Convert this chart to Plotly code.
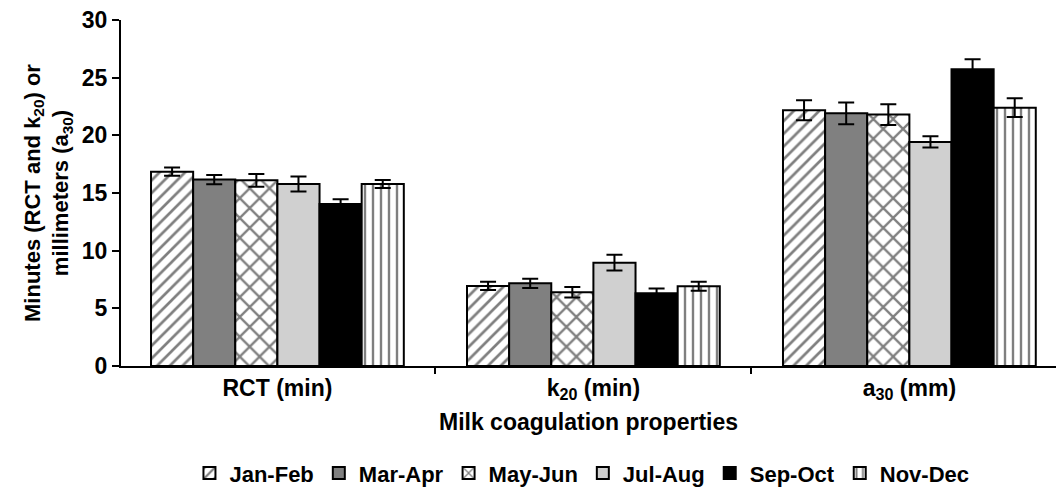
import plotly.graph_objects as go

categories = ["<b>RCT (min)</b>", "<b>k<sub>20</sub> (min)</b>", "<b>a<sub>30</sub> (mm)</b>"]
periods = ["Jan-Feb", "Mar-Apr", "May-Jun", "Jul-Aug", "Sep-Oct", "Nov-Dec"]

jan_feb = [16.85, 6.94, 22.17]
mar_apr = [16.16, 7.17, 21.91]
may_jun = [16.1, 6.39, 21.8]
jul_aug = [15.78, 8.96, 19.43]
sep_oct = [14.05, 6.3, 25.73]
nov_dec = [15.78, 6.91, 22.4]

jan_feb_err = [0.36, 0.36, 0.87]
mar_apr_err = [0.4, 0.4, 0.94]
may_jun_err = [0.55, 0.46, 0.9]
jul_aug_err = [0.65, 0.69, 0.49]
sep_oct_err = [0.4, 0.43, 0.87]
nov_dec_err = [0.35, 0.39, 0.82]

series = [jan_feb, mar_apr, may_jun, jul_aug, sep_oct, nov_dec]
errors = [jan_feb_err, mar_apr_err, may_jun_err, jul_aug_err, sep_oct_err, nov_dec_err]

styles = [
    dict(color="white", pattern=dict(shape="/", fgcolor="black", bgcolor="white", size=9, solidity=0.3)),
    dict(color="#808080", pattern=dict(shape="")),
    dict(color="white", pattern=dict(shape="x", fgcolor="black", bgcolor="white", size=14, solidity=0.3)),
    dict(color="#d0d0d0", pattern=dict(shape="")),
    dict(color="black", pattern=dict(shape="")),
    dict(color="white", pattern=dict(shape="|", fgcolor="black", bgcolor="white", size=8, solidity=0.3)),
]

FONT = "Liberation Sans, Arial, sans-serif"

fig = go.Figure()
for name, vals, errs, st in zip(periods, series, errors, styles):
    fig.add_trace(go.Bar(
        name=f"<b>{name}</b>", x=categories, y=vals,
        marker=dict(color=st["color"], pattern=st["pattern"], line=dict(color="black", width=2)),
        error_y=dict(type="data", array=errs, visible=True, color="black", thickness=2, width=8),
    ))

fig.update_layout(
    width=1056, height=488,
    margin=dict(l=121, r=0, t=20, b=122, autoexpand=False),
    paper_bgcolor="white", plot_bgcolor="white",
    barmode="group", bargap=0.2, bargroupgap=0,
    font=dict(family=FONT, size=22, color="black"),
    showlegend=True,
    legend=dict(orientation="h", x=0.493, xanchor="center", y=-0.31, yanchor="middle",
                font=dict(size=22, family=FONT, color="black"), itemwidth=30,
                tracegroupgap=0),
    xaxis=dict(
        range=[-0.495, 2.464], showline=True, linecolor="black", linewidth=2,
        ticks="outside", tickson="boundaries", ticklen=6, tickwidth=2, tickcolor="black",
        tickfont=dict(size=23, family=FONT, color="black"),
        title=dict(text="<b>Milk coagulation properties</b>", font=dict(size=23, family=FONT, color="black"), standoff=11),
        showgrid=False, zeroline=False, automargin=False,
    ),
    yaxis=dict(
        range=[0, 30], dtick=5, showline=True, linecolor="black", linewidth=2,
        ticks="outside", ticklen=7, tickwidth=2, tickcolor="black",
        tickfont=dict(size=23, family=FONT, color="black"),
        tickprefix="<b>", ticksuffix="</b>",
        title=dict(text="<b>Minutes (RCT and k<sub>20</sub>) or<br>millimeters (a<sub>30</sub>)</b>",
                   font=dict(size=22, family=FONT, color="black"), standoff=7),
        showgrid=False, zeroline=False, automargin=False,
    ),
)

fig.write_html("out.html", config={"displayModeBar": False},
               post_script="document.body.style.margin='0px';")
